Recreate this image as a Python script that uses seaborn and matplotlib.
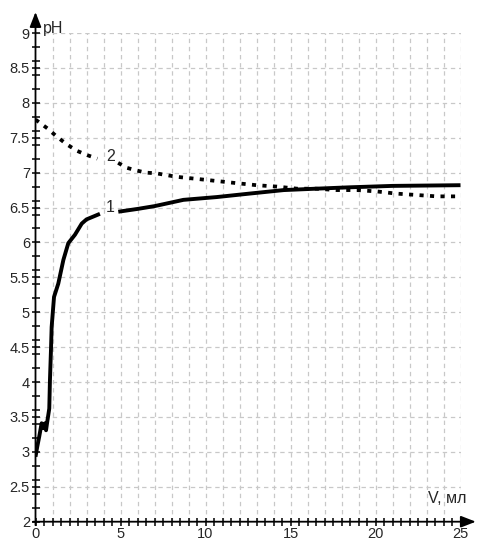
import numpy as np
import pandas as pd
import matplotlib
matplotlib.use('Agg')
import matplotlib.pyplot as plt
import seaborn as sns

# curve 1 (solid), split where the label "1" sits
v1a = [0, 0.1, 0.22, 0.36, 0.46, 0.56, 0.62, 0.69, 0.81, 0.85, 0.91, 0.95,
       1.09, 1.34, 1.64, 1.93, 2.32, 2.72, 3.0, 3.79]
ph1a = [2.93, 3.07, 3.22, 3.41, 3.34, 3.41, 3.31, 3.43, 3.62, 4.03, 4.46, 4.79,
        5.22, 5.41, 5.75, 5.99, 6.11, 6.27, 6.33, 6.41]
v1b = [4.87, 6.0, 7.0, 8.7, 10.66, 12.6, 14.6, 16.5, 18.5, 21.0, 25.0]
ph1b = [6.44, 6.48, 6.52, 6.61, 6.65, 6.70, 6.75, 6.77, 6.79, 6.81, 6.82]

# curve 2 (dotted), split where the label "2" sits
v2a = [0, 0.72, 1.28, 1.87, 2.46, 3.05, 3.64]
ph2a = [7.76, 7.63, 7.51, 7.40, 7.31, 7.25, 7.20]
v2b = [4.86, 5.36, 5.95, 6.5, 7.1, 8.3, 9.5, 10.66, 11.8, 13.0, 14.2, 15.4,
       16.5, 17.7, 18.9, 20.1, 21.2, 22.4, 23.6, 25.0]
ph2b = [7.14, 7.07, 7.03, 7.00, 6.99, 6.94, 6.91, 6.88, 6.85, 6.82, 6.80, 6.77,
        6.77, 6.75, 6.75, 6.73, 6.70, 6.68, 6.66, 6.66]

x_labels = [0, 5, 10, 15, 20, 25]
y_labels = [2, 2.5, 3, 3.5, 4, 4.5, 5, 5.5, 6, 6.5, 7, 7.5, 8, 8.5, 9]

sns.set_style('white')
plt.rcParams['font.family'] = ['Liberation Sans', 'DejaVu Sans']

fig = plt.figure(figsize=(4.83, 5.40), dpi=100)
ax = fig.add_axes([35.5 / 483, 18.3 / 540, 425 / 483, 488.7 / 540])

# grid: every 1 on V, every 0.5 on pH
grid_kw = dict(color='#c8c8c8', lw=0.9, linestyles=(0, (3.5, 3)), zorder=0)
ax.vlines(np.arange(1, 26), 2, 9, **grid_kw)
ax.hlines(np.arange(2.5, 9.01, 0.5), 0, 25, **grid_kw)

for xs, ys in [(v1a, ph1a), (v1b, ph1b)]:
    df = pd.DataFrame({'V': xs, 'pH': ys})
    sns.lineplot(data=df, x='V', y='pH', ax=ax, color='black', lw=2.8,
                 sort=False, estimator=None, solid_capstyle='butt')
for xs, ys in [(v2a, ph2a), (v2b, ph2b)]:
    df = pd.DataFrame({'V': xs, 'pH': ys})
    sns.lineplot(data=df, x='V', y='pH', ax=ax, color='black', lw=2.7,
                 sort=False, estimator=None, linestyle=(0, (1.1, 1.7)))

ax.set_xlim(0, 25)
ax.set_ylim(2, 9)
ax.set_xlabel('')
ax.set_ylabel('')

for s in ['top', 'right', 'left', 'bottom']:
    ax.spines[s].set_visible(False)

# axes with arrows
arr = dict(arrowstyle='-|>,head_length=0.9,head_width=0.35', color='black',
           lw=1.3, shrinkA=0, shrinkB=0)
ax.annotate('', xy=(25.9, 2), xytext=(-0.15, 2), arrowprops=arr,
            annotation_clip=False)
ax.annotate('', xy=(0, 9.3), xytext=(0, 1.95), arrowprops=arr,
            annotation_clip=False)

ax.set_xticks(x_labels)
ax.set_xticklabels([str(v) for v in x_labels])
ax.set_xticks(np.arange(0, 25.01, 0.5), minor=True)
ax.set_yticks(y_labels)
ax.set_yticklabels([f'{v:g}' for v in y_labels])
ax.set_yticks(np.arange(2, 9.01, 0.2), minor=True)
ax.tick_params(which='both', bottom=True, left=True, direction='inout',
               length=6, width=1.1, color='black', labelsize=10.5)
ax.tick_params(which='major', pad=1)

ax.text(0.45, 9.07, 'pH', fontsize=11.5, ha='left', va='center')
ax.text(23.1, 2.33, 'V, мл', fontsize=11.5, ha='left', va='center')
ax.text(4.4, 6.5, '1', fontsize=11.5, ha='center', va='center')
ax.text(4.4, 7.23, '2', fontsize=11.5, ha='center', va='center')

fig.savefig('out.png', dpi=100)
